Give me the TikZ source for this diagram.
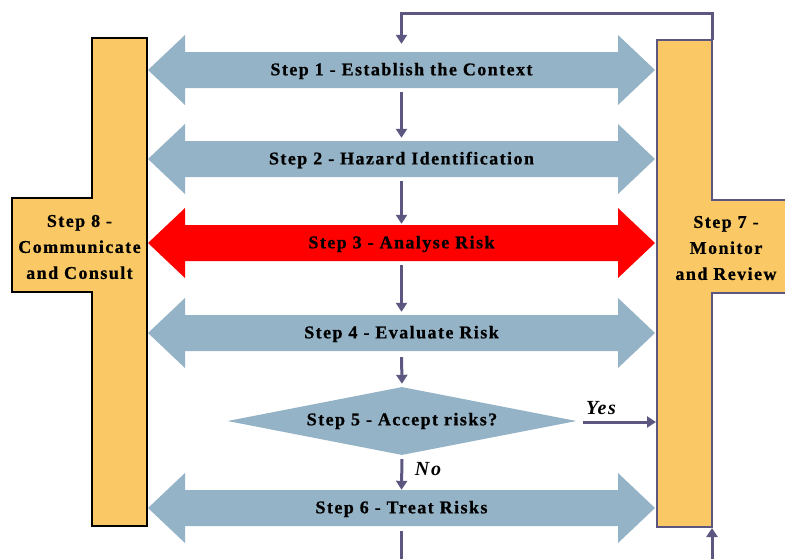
\documentclass[tikz,border=0pt]{standalone}
\usepackage{fontspec}
\setmainfont{Liberation Serif}[LetterSpace=8, BoldFeatures={FakeBold=0.8}]
\usetikzlibrary{shapes.geometric,arrows.meta,calc}
\definecolor{steelgrey}{HTML}{95B3C6}
\definecolor{amber}{HTML}{FAC864}
\definecolor{slate}{HTML}{5C5780}
\definecolor{alarm}{HTML}{FF0000}
\tikzset{
  steptext/.style={font=\bfseries\fontsize{18}{22}\selectfont, inner sep=0pt,
    minimum width=433pt, minimum height=36pt},
  sidetext/.style={font=\bfseries\fontsize{18}{26}\selectfont, align=center, inner sep=0pt},
  flow/.style={draw=slate, line width=3pt, -{Triangle[length=9pt,width=11pt]}},
  plainflow/.style={draw=slate, line width=3pt},
  choice/.style={font=\bfseries\itshape\fontsize{20}{22}\selectfont, inner sep=0pt},
  sidebox/.style={fill=amber, line join=miter},
}
% double-headed block arrow: name, centre y, fill colour, text
\newcommand\dblarrow[4]{%
  \fill[#3] (148,#2) -- (185,#2-35) -- (185,#2-18) -- (618,#2-18) -- (618,#2-35)
    -- (655,#2) -- (618,#2+35) -- (618,#2+18) -- (185,#2+18) -- (185,#2+35) -- cycle;
  \node[steptext] (#1) at (401.5,#2+1) {#4};}
\begin{document}
\begin{tikzpicture}[x=1pt,y=-1pt]
\useasboundingbox (0,0) rectangle (785,558);
\clip (0,0) rectangle (785,558);

% Step 8 - communicate and consult
\draw[sidebox, line width=2.5pt] (92,38) -- (147,38) -- (147,526) -- (92,526)
  -- (92,292) -- (12,292) -- (12,198) -- (92,198) -- cycle;
\node[sidetext] (s8) at (79.5,247) {Step 8 -\\Communicate\\and Consult};

% Step 7 - monitor and review
\draw[sidebox, draw=slate, line width=2pt] (657,40) -- (712,40) -- (712,200)
  -- (795,200) -- (795,293) -- (712,293) -- (712,527) -- (657,527) -- cycle;
\node[sidetext] (s7) at (726,248) {Step 7 -\\Monitor\\and Review};

% process steps
\dblarrow{s1}{70}{steelgrey}{Step 1 - Establish the Context}
\dblarrow{s2}{159}{steelgrey}{Step 2 - Hazard Identification}
\dblarrow{s3}{243}{alarm}{Step 3 - Analyse Risk}
\dblarrow{s4}{333}{steelgrey}{Step 4 - Evaluate Risk}
\node[diamond, fill=steelgrey, minimum width=349pt, minimum height=68pt, aspect=5.1,
  inner sep=0pt, font=\bfseries\fontsize{18}{22}\selectfont] (s5) at (402,421)
  {Step 5 - Accept risks?};
\dblarrow{s6}{508}{steelgrey}{Step 6 - Treat Risks}

% connectors
\coordinate (t7) at (712,40);
\coordinate (loop) at (401.5,13);
\coordinate (s7w) at (657,422);
\coordinate (outbot) at (401.5,565);
\coordinate (inbot) at (712,565);
\coordinate (b7) at (712,528);

\draw[flow, shorten >=9pt] (t7) |- (loop) -- (s1.north);
\draw[flow, shorten <=3pt, shorten >=4pt] (s1.south) -- (s2.north);
\draw[flow, shorten <=3pt, shorten >=2pt] (s2.south) -- (s3.north);
\draw[flow, shorten <=3pt, shorten >=4pt] (s3.south) -- (s4.north);
\draw[flow, shorten <=5pt, shorten >=3pt] (s4.south) -- (s5.north);
\draw[flow, shorten <=4pt, shorten >=1pt] (s5.south) -- (s6.north);
\draw[plainflow, shorten <=4pt] (s6.south) -- (outbot);
\draw[flow] (inbot) -- (b7);
\draw[flow, shorten <=6pt, shorten >=1pt] (s5.east |- s7w) -- (s7w);

\node[choice] (yes) at (601,408) {Yes};
\node[choice] (no) at (428,469) {No};
\end{tikzpicture}
\end{document}
